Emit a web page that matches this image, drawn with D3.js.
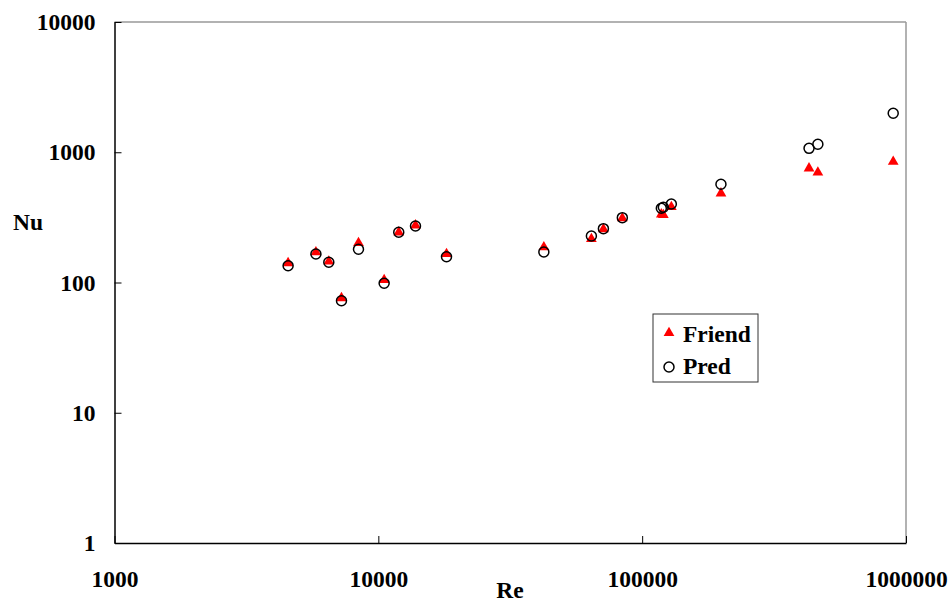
<!DOCTYPE html>
<html>
<head>
<meta charset="utf-8">
<script src="https://cdn.jsdelivr.net/npm/d3@7"></script>
<style>
  body { margin: 0; background: #fff; }
  svg text { font-family: "Liberation Serif", "Times New Roman", serif; font-weight: bold; }
</style>
</head>
<body>
<div class="chart"></div>
<script>
// Reynolds numbers, shared by both series
const re = [4550, 5800, 6490, 7250, 8410, 10520, 11950, 13830, 18130,
            42400, 64200, 71300, 84100, 118200, 120300, 129000, 198900,
            429000, 463400, 894400];
// measured (Friend) and predicted Nusselt numbers
const friend = [141, 171, 145, 76, 201, 104.5, 243, 275, 165.5,
                187, 216, 257, 312, 334, 330, 380, 484,
                753, 701, 846];
const pred = [134.6, 165.5, 143, 72.5, 180, 98.6, 243, 271.5, 157.8,
              171.5, 227.5, 259, 314.5, 371.5, 378, 400.6, 567.5,
              1072, 1151, 1991];
const xTicks = [1000, 10000, 100000, 1000000];
const yTicks = [1, 10, 100, 1000, 10000];

const width = 951, height = 604;
const margin = { left: 114.5, right: 45, top: 22, bottom: 61 };
const fontSize = "23.5px";

const svg = d3.select(".chart").append("svg")
    .attr("width", width)
    .attr("height", height);

const x = d3.scaleLog()
    .domain([1000, 1000000])
    .range([margin.left, width - margin.right]);

const y = d3.scaleLog()
    .domain([1, 10000])
    .range([height - margin.bottom, margin.top]);

// plot frame: grey top/right, black left/bottom
svg.append("line")
    .attr("x1", x(1000)).attr("x2", x(1000000))
    .attr("y1", y(10000)).attr("y2", y(10000))
    .attr("stroke", "#999").attr("stroke-width", 1.5);
svg.append("line")
    .attr("x1", x(1000000)).attr("x2", x(1000000))
    .attr("y1", y(10000)).attr("y2", y(1))
    .attr("stroke", "#999").attr("stroke-width", 1.5);

const xAxis = svg.append("g")
    .attr("transform", "translate(0," + y(1) + ")")
    .call(d3.axisBottom(x).tickValues(xTicks).tickSizeInner(-7).tickSizeOuter(0).tickFormat(d3.format("d")));
const yAxis = svg.append("g")
    .attr("transform", "translate(" + x(1000) + ",0)")
    .call(d3.axisLeft(y).tickValues(yTicks).tickSizeInner(-7).tickSizeOuter(0).tickFormat(d3.format("d")));

[xAxis, yAxis].forEach(function (g) {
    g.select(".domain").attr("stroke", "#000").attr("stroke-width", 1.5);
    g.selectAll(".tick line").attr("stroke", "#000").attr("stroke-width", 1);
    g.selectAll(".tick text")
        .attr("fill", "#000")
        .style("font-size", fontSize)
        .style("font-family", "'Liberation Serif', 'Times New Roman', serif")
        .style("font-weight", "bold");
});
xAxis.selectAll(".tick text").attr("y", 27).attr("dy", "0.71em");
yAxis.selectAll(".tick text").attr("x", -19);

svg.append("text")
    .attr("x", 28).attr("y", 230)
    .attr("text-anchor", "middle")
    .style("font-size", fontSize)
    .text("Nu");
svg.append("text")
    .attr("x", 510).attr("y", 598)
    .attr("text-anchor", "middle")
    .style("font-size", fontSize)
    .text("Re");

const tri = d3.symbol().type(d3.symbolTriangle).size(50);

svg.append("g").selectAll("path")
    .data(re)
    .enter().append("path")
    .attr("d", tri)
    .attr("transform", function (d, i) { return "translate(" + x(d) + "," + y(friend[i]) + ")"; })
    .attr("fill", "#ff0000");

svg.append("g").selectAll("circle")
    .data(re)
    .enter().append("circle")
    .attr("cx", function (d) { return x(d); })
    .attr("cy", function (d, i) { return y(pred[i]); })
    .attr("r", 5)
    .attr("fill", "none")
    .attr("stroke", "#000")
    .attr("stroke-width", 1.5);

// legend
const legend = svg.append("g").attr("transform", "translate(653,314)");
legend.append("rect")
    .attr("width", 105).attr("height", 68)
    .attr("fill", "#fff")
    .attr("stroke", "#333").attr("stroke-width", 1);
legend.append("path")
    .attr("d", tri)
    .attr("transform", "translate(16,19)")
    .attr("fill", "#ff0000");
legend.append("circle")
    .attr("cx", 16).attr("cy", 53).attr("r", 5)
    .attr("fill", "none").attr("stroke", "#000").attr("stroke-width", 1.5);
legend.append("text")
    .attr("x", 30).attr("y", 28)
    .style("font-size", fontSize)
    .text("Friend");
legend.append("text")
    .attr("x", 30).attr("y", 60)
    .style("font-size", fontSize)
    .text("Pred");
</script>
</body>
</html>
